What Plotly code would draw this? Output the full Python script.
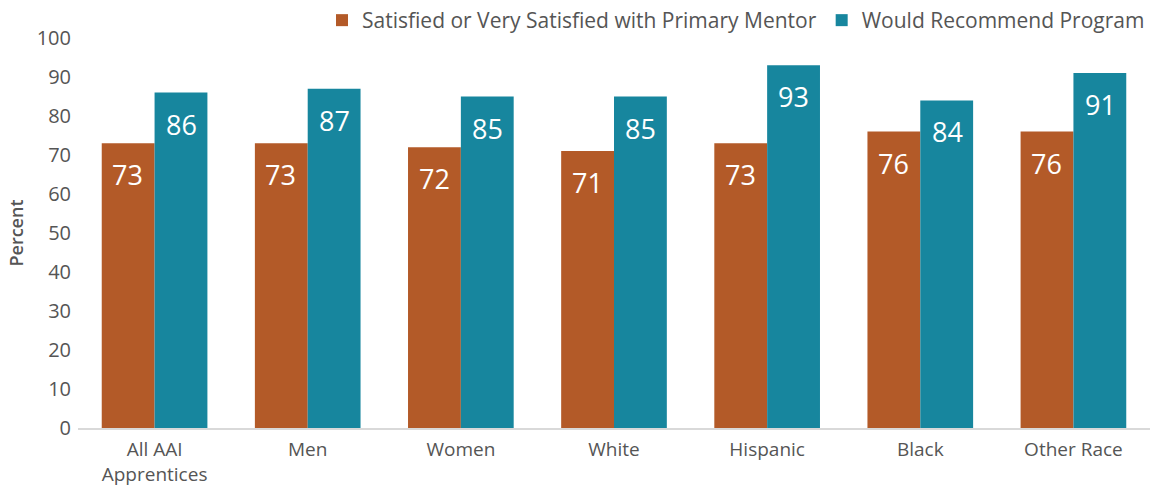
import plotly.graph_objects as go

categories = ["All AAI<br>Apprentices", "Men", "Women", "White", "Hispanic", "Black", "Other Race"]
satisfied = [73, 73, 72, 71, 73, 76, 76]
recommend = [86, 87, 85, 85, 93, 84, 91]
series_names = ["Satisfied or Very Satisfied with Primary Mentor", "Would Recommend Program"]
y_ticks = list(range(0, 101, 10))

ORANGE = "#B35A28"
TEAL = "#17869E"
TEXT = "#555555"
FONT = "'Open Sans', sans-serif"

fig = go.Figure()
for name, vals, color, off in [(series_names[0], satisfied, ORANGE, 0),
                               (series_names[1], recommend, TEAL, 1)]:
    fig.add_trace(go.Bar(
        x=categories, y=vals, name=name,
        marker=dict(color=color, line=dict(width=0)),
        offsetgroup=str(off),
    ))

# value labels placed just below each bar top
for i, cat in enumerate(categories):
    for vals, xs in [(satisfied, -0.175), (recommend, 0.175)]:
        fig.add_annotation(
            x=i + xs, y=vals[i], xref="x", yref="y",
            text=str(vals[i]), showarrow=False,
            yanchor="top", yshift=-11,
            font=dict(family=FONT, size=27, color="white"),
        )

fig.update_layout(
    width=1156, height=489,
    margin=dict(l=78, r=6, t=38, b=61, autoexpand=False),
    paper_bgcolor="white", plot_bgcolor="white",
    barmode="group", bargap=0.31, bargroupgap=0,
    font=dict(family=FONT, color=TEXT, size=20),
    legend=dict(orientation="h", x=1.0, xanchor="right",
                yref="container", y=1.0, yanchor="top",
                font=dict(size=21, color=TEXT), traceorder="normal",
                itemwidth=30, tracegroupgap=0),
    showlegend=True,
)
fig.update_xaxes(
    type="category", showgrid=False, showline=True, linecolor="#D9D9D9", linewidth=2,
    tickfont=dict(size=19, color=TEXT), ticks="", ticklabelstandoff=3,
)
fig.update_yaxes(
    range=[0, 100], tickvals=y_ticks, showgrid=False, zeroline=False, showline=False,
    tickfont=dict(size=20, color=TEXT), ticks="", ticklabelstandoff=6,
    title=dict(text="Percent", font=dict(size=18, color=TEXT, weight=600), standoff=8),
)

fig.write_html("out.html")
